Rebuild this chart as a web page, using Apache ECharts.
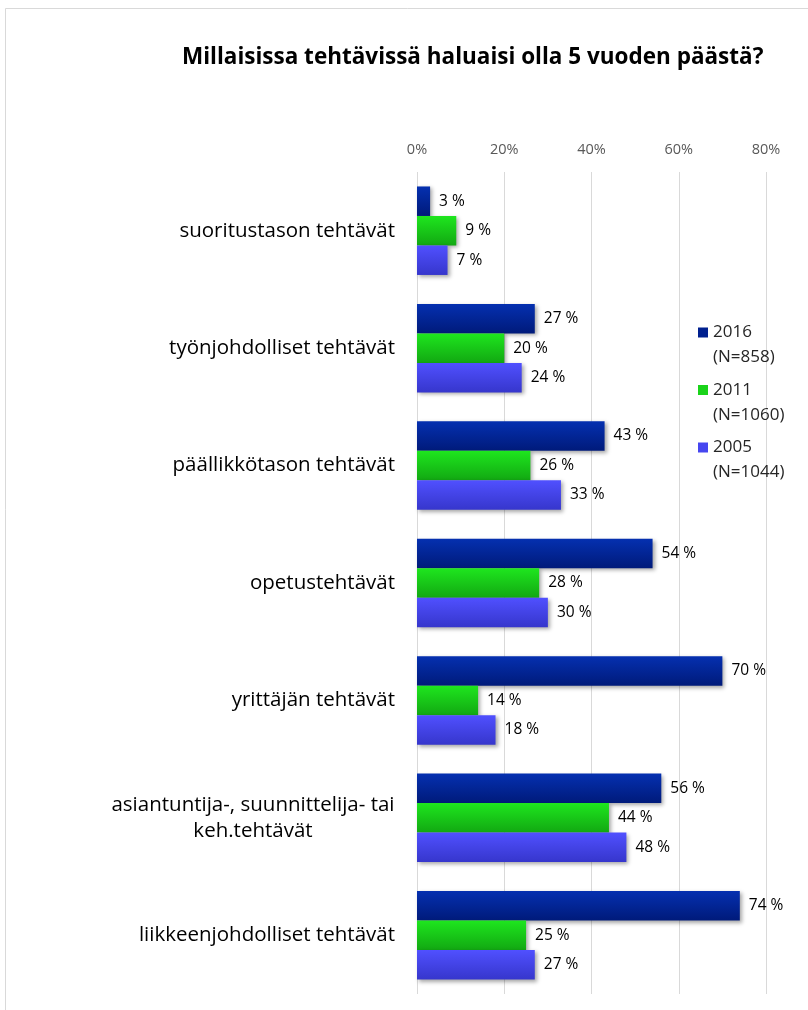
<!DOCTYPE html>
<html>
<head>
<meta charset="utf-8">
<script src="https://cdn.jsdelivr.net/npm/echarts@6/dist/echarts.min.js"></script>
<style>
  html, body { margin: 0; padding: 0; background: #fff; }
  #chart { width: 808px; height: 1010px; }
</style>
</head>
<body>
<div id="chart"></div>
<script>
// Survey: preferred type of work in five years, by survey year (%)
const categories = [
  'suoritustason tehtävät',
  'työnjohdolliset tehtävät',
  'päällikkötason tehtävät',
  'opetustehtävät',
  'yrittäjän tehtävät',
  'asiantuntija-, suunnittelija- tai\nkeh.tehtävät',
  'liikkeenjohdolliset tehtävät'
];
const seriesNames = ['2016\n(N=858)', '2011\n(N=1060)', '2005\n(N=1044)'];
const values2016 = [3, 27, 43, 54, 70, 56, 74];
const values2011 = [9, 20, 26, 28, 14, 44, 25];
const values2005 = [7, 24, 33, 30, 18, 48, 27];
const axisTicks = [0, 20, 40, 60, 80];

const FONT = 'Open Sans';

function grad(top, bottom) {
  return new echarts.graphic.LinearGradient(0, 0, 0, 1, [
    { offset: 0, color: top },
    { offset: 1, color: bottom }
  ]);
}

const palette = [
  { fill: grad('#0530b0', '#001a7a'), legend: '#00208f' },
  { fill: grad('#1ee61e', '#12a812'), legend: '#1ad31a' },
  { fill: grad('#5050ff', '#3636cc'), legend: '#4646f0' }
];

const seriesValues = [values2016, values2011, values2005];

const chart = echarts.init(document.getElementById('chart'));

chart.setOption({
  backgroundColor: '#fff',
  animation: false,
  textStyle: { fontFamily: FONT },
  title: {
    text: 'Millaisissa tehtävissä haluaisi olla 5 vuoden päästä?',
    left: 177,
    top: 41,
    textStyle: { fontFamily: FONT, fontSize: 22.5, fontWeight: 'bold', color: '#000' }
  },
  graphic: [{
    type: 'rect',
    shape: { x: 5.5, y: 8.5, width: 1000, height: 1200 },
    style: { fill: null, stroke: '#d9d9d9', lineWidth: 1 },
    silent: true
  }],
  legend: {
    orient: 'vertical',
    left: 698,
    top: 295,
    padding: 0,
    itemWidth: 10,
    itemHeight: 10,
    itemGap: -17.5,
    icon: 'rect',
    // a blank leading line keeps the marker level with the year line
    formatter: name => ' \n' + name,
    data: seriesNames.map((n, i) => ({ name: n, itemStyle: { color: palette[i].legend } })),
    textStyle: { fontFamily: FONT, fontSize: 17, color: '#262626', lineHeight: 25 }
  },
  grid: { left: 417, right: 42, top: 172, bottom: 16, containLabel: false },
  xAxis: {
    type: 'value',
    position: 'top',
    min: axisTicks[0],
    max: axisTicks[axisTicks.length - 1],
    interval: 20,
    axisLine: { show: false },
    axisTick: { show: false },
    axisLabel: { formatter: '{value}%', color: '#595959', fontSize: 14.5, margin: 15, fontFamily: FONT },
    splitLine: { lineStyle: { color: '#d9d9d9', width: 1 } }
  },
  yAxis: {
    type: 'category',
    inverse: true,
    data: categories,
    axisLine: { show: false },
    axisTick: { show: false },
    axisLabel: {
      margin: 22,
      color: '#000',
      fontSize: 20.5,
      fontFamily: FONT,
      formatter: function (v) {
        if (v.indexOf('\n') >= 0) {
          return v.split('\n').map(l => '{c|' + l + '}').join('\n');
        }
        return v;
      },
      rich: {
        c: { width: 284, align: 'center', fontSize: 20.5, fontFamily: FONT, color: '#000', lineHeight: 26 }
      }
    }
  },
  series: seriesNames.map((name, i) => ({
    name: name,
    type: 'bar',
    data: seriesValues[i],
    barWidth: 29.5,
    barGap: '0%',
    itemStyle: {
      color: palette[i].fill,
      shadowColor: 'rgba(0,0,0,0.35)',
      shadowBlur: 4,
      shadowOffsetX: 2,
      shadowOffsetY: 2
    },
    label: {
      show: true,
      position: 'right',
      distance: 9,
      formatter: '{c} %',
      color: '#000',
      fontSize: 15.5,
      fontFamily: FONT
    }
  }))
});
</script>
</body>
</html>
